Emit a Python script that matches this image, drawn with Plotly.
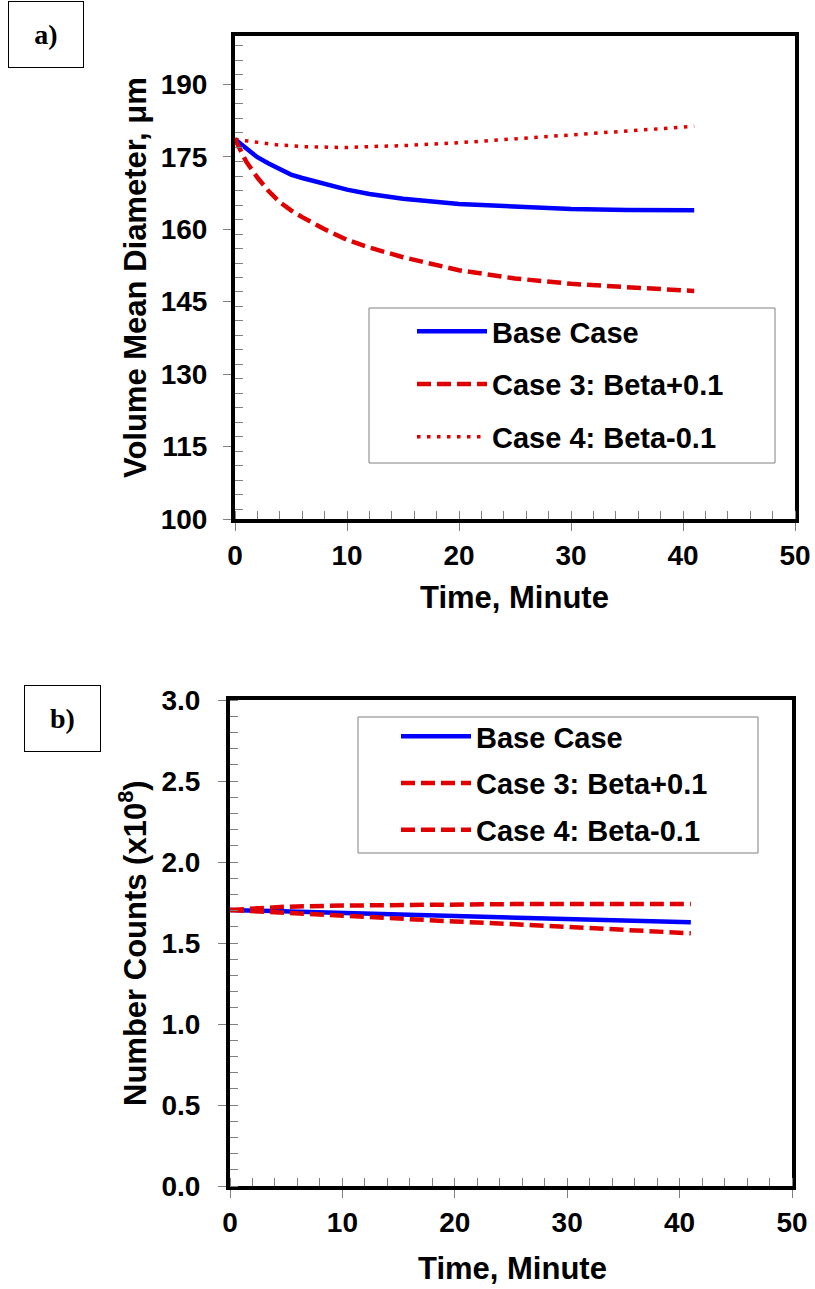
import plotly.graph_objects as go

# ---------------- data ----------------
series_names = ["Base Case", "Case 3: Beta+0.1", "Case 4: Beta-0.1"]

time_a = [0, 1, 2, 3, 4, 5, 6, 8, 10, 12, 15, 20, 25, 30, 35, 41]
base_a = [178.6, 176.6, 174.9, 173.6, 172.4, 171.3, 170.6, 169.3, 168.2, 167.3, 166.3, 165.2, 164.6, 164.2, 164.0, 163.9]
case3_a = [178.6, 174.0, 170.7, 167.9, 165.6, 163.9, 162.5, 160.0, 157.8, 156.2, 154.2, 151.5, 149.8, 148.7, 148.0, 147.2]
case4_a = [178.6, 178.3, 178.0, 177.7, 177.4, 177.3, 177.1, 177.0, 176.9, 177.1, 177.3, 177.9, 178.7, 179.6, 180.4, 181.3]

time_b = [0, 5, 10, 15, 20, 25, 30, 35, 41]
base_b = [1.704, 1.695, 1.686, 1.676, 1.667, 1.657, 1.647, 1.638, 1.628]
case3_b = [1.704, 1.724, 1.731, 1.736, 1.739, 1.740, 1.741, 1.741, 1.741]
case4_b = [1.704, 1.685, 1.665, 1.647, 1.633, 1.617, 1.600, 1.580, 1.560]

x_ticks = [0, 10, 20, 30, 40, 50]
ya_ticks = [100, 115, 130, 145, 160, 175, 190]
yb_ticks = [0.0, 0.5, 1.0, 1.5, 2.0, 2.5, 3.0]

# ---------------- style ----------------
W, H = 815, 1289
BLUE = "#0000FF"
RED = "#E00000"
SANS = "Liberation Sans, Arial, sans-serif"
SERIF = "Liberation Serif, Times New Roman, serif"

def px_x(p):
    return p / W

def px_y(p):
    return 1 - p / H

fig = go.Figure()

# panel a
fig.add_trace(go.Scatter(x=time_a, y=base_a, mode="lines", name=series_names[0],
                         line=dict(color=BLUE, width=4.5), xaxis="x", yaxis="y",
                         legend="legend", legendgroup="a1"))
fig.add_trace(go.Scatter(x=time_a, y=case3_a, mode="lines", name=series_names[1],
                         line=dict(color=RED, width=4.5, dash="14px,6px"), xaxis="x", yaxis="y",
                         legend="legend", legendgroup="a2"))
fig.add_trace(go.Scatter(x=time_a, y=case4_a, mode="lines", name=series_names[2],
                         line=dict(color=RED, width=3.5, dash="3.5px,6.5px"), xaxis="x", yaxis="y",
                         legend="legend", legendgroup="a3"))

# panel b
fig.add_trace(go.Scatter(x=time_b, y=base_b, mode="lines", name=series_names[0],
                         line=dict(color=BLUE, width=4.5), xaxis="x2", yaxis="y2",
                         legend="legend2", legendgroup="b1"))
fig.add_trace(go.Scatter(x=time_b, y=case3_b, mode="lines", name=series_names[1],
                         line=dict(color=RED, width=4.5, dash="14px,6px"), xaxis="x2", yaxis="y2",
                         legend="legend2", legendgroup="b2"))
fig.add_trace(go.Scatter(x=time_b, y=case4_b, mode="lines", name=series_names[2],
                         line=dict(color=RED, width=4.5, dash="14px,6px"), xaxis="x2", yaxis="y2",
                         legend="legend2", legendgroup="b3"))

tickfont = dict(family=SANS, size=28, color="black", weight="bold")

def xaxis_style(domain, anchor):
    return dict(domain=domain, anchor=anchor, range=[0, 50], tickvals=x_ticks,
                ticks="outside", ticklen=8, tickcolor="#808080", tickwidth=1,
                minor=dict(dtick=2, ticks="inside", ticklen=8, tickcolor="#808080", tickwidth=1),
                showline=True, linewidth=4, linecolor="black", mirror=True,
                showgrid=False, zeroline=False, tickfont=tickfont, ticklabelstandoff=0,
                automargin=False)

def yaxis_style(domain, anchor, rng, tv, mdt, fmt, standoff):
    return dict(domain=domain, anchor=anchor, range=rng, tickvals=tv, tickformat=fmt,
                ticks="outside", ticklen=8, tickcolor="#808080", tickwidth=1,
                minor=dict(dtick=mdt, ticks="inside", ticklen=8, tickcolor="#808080", tickwidth=1),
                showline=True, linewidth=4, linecolor="black", mirror=True,
                showgrid=False, zeroline=False, tickfont=tickfont, ticklabelstandoff=standoff,
                automargin=False)

xa_dom = [px_x(235), px_x(795)]
ya_dom = [px_y(519), px_y(36)]
xb_dom = [px_x(230), px_x(792)]
yb_dom = [px_y(1186), px_y(700)]

legfont = dict(family=SANS, size=29, color="black", weight="bold")

fig.update_layout(
    template="none",
    width=W, height=H,
    margin=dict(l=0, r=0, t=0, b=0, pad=0, autoexpand=False),
    paper_bgcolor="white", plot_bgcolor="white",
    showlegend=True,
    xaxis=xaxis_style(xa_dom, "y"),
    yaxis=yaxis_style(ya_dom, "x", [100, 200], ya_ticks, 3, "d", 10),
    xaxis2=xaxis_style(xb_dom, "y2"),
    yaxis2=yaxis_style(yb_dom, "x2", [0, 3], yb_ticks, 0.1, ".1f", 12),
    legend=dict(x=px_x(412), y=px_y(306), xanchor="left", yanchor="top",
                bgcolor="rgba(0,0,0,0)", borderwidth=0, font=legfont,
                tracegroupgap=12, itemwidth=70),
    legend2=dict(x=px_x(396), y=px_y(711), xanchor="left", yanchor="top",
                 bgcolor="rgba(0,0,0,0)", borderwidth=0, font=legfont,
                 tracegroupgap=6, itemwidth=70),
    shapes=[
        dict(type="rect", xref="paper", yref="paper",
             x0=px_x(369), x1=px_x(775), y0=px_y(463), y1=px_y(308),
             line=dict(color="#808080", width=1), fillcolor="white", layer="below"),
        dict(type="rect", xref="paper", yref="paper",
             x0=px_x(358), x1=px_x(758), y0=px_y(853), y1=px_y(717),
             line=dict(color="#808080", width=1), fillcolor="white", layer="below"),
    ],
)

xtitlefont = dict(family=SANS, size=31, color="black", weight="bold")
ytitlefont = dict(family=SANS, size=31, color="black", weight="bold")
annots = [
    dict(text="Time, Minute", x=px_x(514), y=px_y(598), xanchor="center", yanchor="middle",
         font=xtitlefont),
    dict(text="Volume Mean Diameter, μm", x=px_x(135), y=px_y(278), xanchor="center",
         yanchor="middle", textangle=-90, font=ytitlefont),
    dict(text="Time, Minute", x=px_x(512), y=px_y(1268), xanchor="center", yanchor="middle",
         font=xtitlefont),
    dict(text="Number Counts (x10<sup>8</sup>)", x=px_x(133), y=px_y(943), xanchor="center",
         yanchor="middle", textangle=-90, font=ytitlefont),
    dict(text="a)", x=px_x(8), y=px_y(1), xanchor="left", yanchor="top",
         width=74, height=65, bordercolor="black", borderwidth=1, borderpad=0,
         font=dict(family=SERIF, size=28, color="black", weight="bold")),
    dict(text="b)", x=px_x(24), y=px_y(685), xanchor="left", yanchor="top",
         width=75, height=65, bordercolor="black", borderwidth=1, borderpad=0,
         font=dict(family=SERIF, size=28, color="black", weight="bold")),
]
for a in annots:
    a["showarrow"] = False
    a["xref"] = "paper"
    a["yref"] = "paper"
fig.update_layout(annotations=annots)

fig.write_html("out.html", config={"displayModeBar": False},
               post_script="document.body.style.margin='0px';")
